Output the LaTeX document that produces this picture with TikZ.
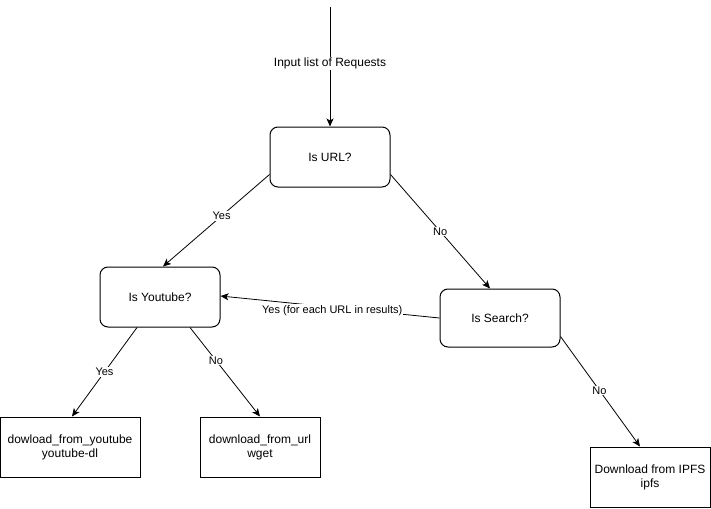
\documentclass[tikz,border=0pt]{standalone}
\usepackage{fontspec}
\setmainfont{Liberation Sans}
\usetikzlibrary{arrows.meta}
\begin{document}
\begin{tikzpicture}[x=1pt,y=-1pt,
  decision/.style={draw, line width=1pt, rounded corners=8pt, minimum width=120pt, minimum height=60pt, font=\fontsize{12}{14}\selectfont, inner sep=0pt},
  action/.style={draw, line width=1pt, minimum width=120pt, minimum height=60pt, font=\fontsize{12}{14}\selectfont, align=center, inner sep=0pt},
  conn/.style={draw, line width=0.8pt, -{Stealth[length=8pt,width=7pt,inset=2pt]}},
  lbl/.style={fill=white, inner sep=1pt, font=\fontsize{11}{13}\selectfont}]
\useasboundingbox (0,0) rectangle (711,508);
\node[decision] (url) at (330,157) {Is URL?};
\node[decision] (yt) at (160,297) {Is Youtube?};
\node[decision, minimum height=58pt] (search) at (500,318) {Is Search?};
\node[action, minimum width=140pt] (ytdl) at (70,447) {dowload\_from\_youtube\\youtube-dl};
\node[action] (urldl) at (260,447) {download\_from\_url\\wget};
\node[action] (ipfs) at (650,477) {Download from IPFS\\ipfs};
\coordinate (in) at (330,7);
\draw[conn] (in) -- node[lbl, pos=0.47, font=\fontsize{12}{14}\selectfont] {Input list of Requests} (url.north);
\draw[conn] ([yshift=13pt]url.south west) -- node[lbl, pos=0.45] {Yes} ([xshift=3pt]yt.north);
\draw[conn] ([yshift=13pt]url.south east) -- node[lbl, pos=0.5] {No} ([xshift=-10pt]search.north);
\draw[conn] (search.west) -- node[lbl, pos=0.49, yshift=-3pt] {Yes (for each URL in results)} ([yshift=1pt]yt.east);
\draw[conn] ([xshift=-23pt]yt.south) -- node[lbl, pos=0.5] {Yes} ([xshift=2pt]ytdl.north);
\draw[conn] ([xshift=30pt]yt.south) -- node[lbl, pos=0.37] {No} (urldl.north);
\draw[conn] ([yshift=11pt]search.south east) -- node[lbl, pos=0.49] {No} ([xshift=-10pt]ipfs.north);
\end{tikzpicture}
\end{document}
